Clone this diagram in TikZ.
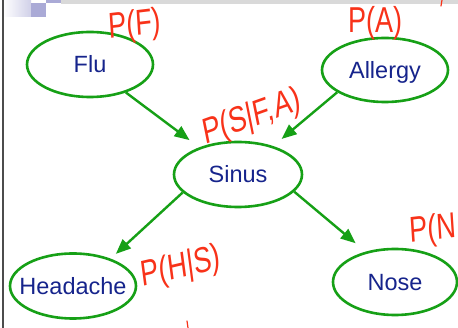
\documentclass[tikz,border=0pt]{standalone}
\usepackage{fontspec}
\setmainfont{Liberation Sans}
\usetikzlibrary{shapes.geometric,arrows.meta}
\definecolor{netgreen}{RGB}{22,160,22}
\definecolor{labelblue}{RGB}{22,36,140}
\definecolor{inkred}{RGB}{248,50,25}
\definecolor{barlav}{RGB}{170,170,214}
\begin{document}
\begin{tikzpicture}[x=1pt,y=-1pt,
  var/.style={ellipse, draw=netgreen, line width=2.6pt, inner sep=0pt,
    text=labelblue, font=\fontsize{23.5}{28}\selectfont,
    text height=16.8pt, text depth=0pt},
  link/.style={draw=netgreen, line width=2.4pt,
    -{Triangle[length=15pt,width=12pt]}},
  note/.style={text=inkred, font=\fontsize{36}{40}\selectfont,
    xscale=0.75, inner sep=0pt},
  scrap/.style={draw=inkred, line width=1.2pt, line cap=round}]
\useasboundingbox (0,0) rectangle (458,328);
\fill[white] (0,0) rectangle (458,328);

% slide frame decoration
\fill[black!15] (61,0) rectangle (458,4);
\shade[left color=white, right color=barlav!55] (3,0) rectangle (31,17);
\fill[barlav] (31,3) rectangle (46,17);
\fill[barlav] (46,0) rectangle (61,3);
\draw[line width=1.5pt, black!70] (3,0) -- (3,328);

% variables
\node[var, minimum width=126pt, minimum height=65pt] (flu) at (90,64.5) {\makebox[0pt]{Flu}};
\node[var, minimum width=126pt, minimum height=64pt] (allergy) at (385,70) {\makebox[0pt]{Allergy}};
\node[var, minimum width=128pt, minimum height=65pt] (sinus) at (238,174.5) {\makebox[0pt]{Sinus}};
\node[var, minimum width=126pt, minimum height=65pt] (headache) at (73,286) {\makebox[0pt]{Headache}};
\node[var, minimum width=124pt, minimum height=66pt] (nose) at (395,282) {\makebox[0pt]{Nose}};

% dependencies
\draw[link, shorten >=12pt] (flu.322) -- (sinus.145);
\draw[link, shorten >=11pt] (allergy.205) -- (sinus.39);
\draw[link, shorten >=7pt] (sinus.198) -- (headache.36);
\draw[link, shorten >=13pt] (sinus.343) -- (nose.134);

% handwritten probability tables
\node[note, rotate=5] (pf) at (135,26) {P(F)};
\node[note] (pa) at (375,23) {P(A)};
\node[note, rotate=15] (psfa) at (252,118) {P(S|F,A)};
\node[note, rotate=10] (phs) at (181,268) {P(H|S)};
\node[note, anchor=west, rotate=5] (pn) at (410,233) {P(N};
\coordinate (s1a) at (442,0); \coordinate (s1b) at (441,6);
\coordinate (s2a) at (187,321); \coordinate (s2b) at (188,328);
\draw[scrap] (s1a) -- (s1b);
\draw[scrap] (s2a) -- (s2b);
\end{tikzpicture}
\end{document}
